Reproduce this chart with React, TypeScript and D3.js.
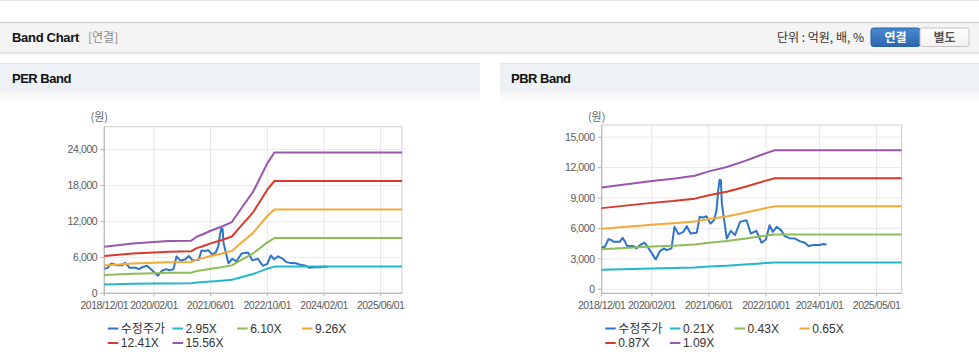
import React from 'react';
import * as d3 from 'd3';

const PER_MULTIPLES = [2.95, 6.1, 9.26, 12.41, 15.56];
const PBR_MULTIPLES = [0.21, 0.43, 0.65, 0.87, 1.09];
const PER_LEGEND = ['수정주가', '2.95X', '6.10X', '9.26X', '12.41X', '15.56X'];
const PBR_LEGEND = ['수정주가', '0.21X', '0.43X', '0.65X', '0.87X', '1.09X'];
const SERIES_COLORS = ['#3074c6', '#22b8c8', '#8dbd55', '#f5a935', '#d8392c', '#9a55ad'];

// EPS (per share) used for PER bands
const EPS_SERIES: [string, number][] = [
  ['2018-12-01', 500], ['2019-08-01', 535], ['2020-02-01', 550], ['2020-06-01', 560],
  ['2020-12-15', 564], ['2021-02-01', 607], ['2021-04-01', 636], ['2021-06-01', 671],
  ['2021-09-01', 714], ['2021-12-01', 764], ['2022-02-10', 893], ['2022-06-01', 1089],
  ['2022-10-01', 1393], ['2022-12-01', 1510], ['2025-12-01', 1510],
];

// BPS (per share) used for PBR bands
const BPS_SERIES: [string, number][] = [
  ['2018-12-01', 9200], ['2020-02-01', 9795], ['2020-08-01', 10006], ['2021-02-01', 10275],
  ['2021-06-01', 10667], ['2021-11-01', 11057], ['2022-04-01', 11598], ['2022-10-01', 12319],
  ['2022-12-15', 12580], ['2025-12-01', 12580],
];

// Adjusted share price (수정주가)
const PRICE_SERIES: [string, number][] = [
  ['2018-12-01', 4130], ['2018-12-28', 4200], ['2019-01-28', 4950], ['2019-02-25', 4850],
  ['2019-03-10', 4680], ['2019-05-03', 4680], ['2019-05-28', 5080], ['2019-06-18', 4680],
  ['2019-07-06', 4260], ['2019-08-28', 4260], ['2019-09-25', 4030], ['2019-10-22', 4360],
  ['2019-12-03', 4590], ['2020-01-15', 3860], ['2020-02-28', 3050], ['2020-03-06', 2950],
  ['2020-04-10', 3770], ['2020-05-15', 4030], ['2020-06-06', 3860], ['2020-07-18', 4030],
  ['2020-08-12', 6160], ['2020-09-15', 5440], ['2020-10-28', 5670], ['2020-11-25', 6220],
  ['2020-12-28', 5500], ['2021-02-18', 5570], ['2021-03-15', 7140], ['2021-04-12', 7070],
  ['2021-05-12', 7200], ['2021-06-15', 6480], ['2021-07-15', 6810], ['2021-08-06', 7800],
  ['2021-08-20', 9760], ['2021-09-01', 10810], ['2021-09-12', 10740], ['2021-09-20', 8450],
  ['2021-10-10', 6810], ['2021-11-01', 5010], ['2021-12-05', 5760], ['2022-01-10', 5340],
  ['2022-02-22', 6650], ['2022-04-18', 6810], ['2022-05-25', 5500], ['2022-07-12', 5760],
  ['2022-08-25', 4590], ['2022-10-01', 4910], ['2022-11-01', 6320], ['2022-11-28', 5670],
  ['2023-01-01', 6160], ['2023-02-12', 5760], ['2023-03-10', 5240], ['2023-04-20', 5040],
  ['2023-06-03', 5010], ['2023-07-15', 4750], ['2023-08-28', 4590], ['2023-09-28', 4260],
  ['2023-11-10', 4360], ['2024-01-03', 4360], ['2024-02-01', 4460], ['2024-03-01', 4420],
];

const X_DOMAIN = ['2018-12-01', '2025-12-01'];
const PER_X_TICKS = ['2018/12/01', '2020/02/01', '2021/06/01', '2022/10/01', '2024/02/01', '2025/06/01'];
const PBR_X_TICKS = ['2018/12/01', '2020/02/01', '2021/06/01', '2022/10/01', '2024/01/01', '2025/05/01'];
const PER_Y_TICKS = [0, 6000, 12000, 18000, 24000];
const PBR_Y_TICKS = [0, 3000, 6000, 9000, 12000, 15000];
const PER_Y_DOMAIN = [0, 27800];
const PBR_Y_DOMAIN = [-395, 16200];

const FONT = "'Liberation Sans', Arial, 'Noto Sans CJK KR', sans-serif";
const KFONT = "'Noto Sans CJK KR', 'Liberation Sans', sans-serif";

const parse = d3.timeParse('%Y-%m-%d');
const parseTick = d3.timeParse('%Y/%m/%d');

type PanelProps = {
  left: number; right: number; top: number; bottom: number;
  yDomain: number[]; yTicks: number[]; xTicks: string[];
  base: [string, number][]; multiples: number[]; legend: string[];
};

function Panel({ left, right, top, bottom, yDomain, yTicks, xTicks, base, multiples, legend }: PanelProps) {
  const x = d3.scaleTime().domain(X_DOMAIN.map((d) => parse(d) as Date)).range([left, right]);
  const y = d3.scaleLinear().domain(yDomain).range([bottom, top]);
  const line = d3.line<[Date, number]>().x((d) => x(d[0])).y((d) => y(d[1]));
  const price: [Date, number][] = PRICE_SERIES.map(([d, v]) => [parse(d) as Date, v]);
  const bands = multiples.map((m) => base.map(([d, v]) => [parse(d) as Date, v * m] as [Date, number]));
  const fmt = d3.format(',');
  const colW = 64.7;
  return (
    <g>
      {/* gridlines */}
      {yTicks.map((t) => (
        <line key={'gy' + t} x1={left} x2={right} y1={y(t)} y2={y(t)} stroke="#ebebeb" strokeWidth={1} />
      ))}
      {xTicks.map((t) => {
        const xx = x(parseTick(t) as Date);
        return <line key={'gx' + t} x1={xx} x2={xx} y1={top} y2={bottom} stroke="#e6e6e6" strokeWidth={1} />;
      })}
      {/* border */}
      <rect x={left} y={top} width={right - left} height={bottom - top} fill="none" stroke="#cfcfcf" strokeWidth={1} />
      <line x1={left} x2={left} y1={top} y2={bottom} stroke="#b5b5b5" />
      <line x1={left} x2={right} y1={bottom} y2={bottom} stroke="#b5b5b5" />
      {/* y ticks */}
      {yTicks.map((t) => (
        <g key={'yt' + t}>
          <line x1={left - 4} x2={left} y1={y(t)} y2={y(t)} stroke="#b5b5b5" />
          <text x={left - 7} y={y(t)} dy="0.35em" textAnchor="end" fontSize={10.5} fill="#5a5a5a" fontFamily={FONT} letterSpacing={-0.4}>
            {fmt(t)}
          </text>
        </g>
      ))}
      {/* x ticks */}
      {xTicks.map((t) => {
        const xx = x(parseTick(t) as Date);
        return (
          <g key={'xt' + t}>
            <line x1={xx} x2={xx} y1={bottom} y2={bottom + 3} stroke="#b5b5b5" />
            <text x={xx} y={bottom + 16} textAnchor="middle" fontSize={10.5} fill="#5a5a5a" fontFamily={FONT} letterSpacing={-0.5}>
              {t}
            </text>
          </g>
        );
      })}
      <text x={left - 5} y={117} dy="0.35em" textAnchor="middle" fontSize={11} fill="#666" fontFamily={KFONT}>
        (원)
      </text>
      {/* series */}
      <path d={line(price) || ''} fill="none" stroke={SERIES_COLORS[0]} strokeWidth={2} strokeLinejoin="round" />
      {bands.map((b, i) => (
        <path key={'b' + i} d={line(b) || ''} fill="none" stroke={SERIES_COLORS[i + 1]} strokeWidth={2} strokeLinejoin="round" />
      ))}
      {/* legend */}
      {legend.map((name, i) => {
        const lx = left + 3.5 + (i % 4) * colW;
        const ly = 328.5 + Math.floor(i / 4) * 14.5;
        return (
          <g key={'lg' + i}>
            <line x1={lx} x2={lx + 10.5} y1={ly} y2={ly} stroke={SERIES_COLORS[i]} strokeWidth={2} />
            <text x={lx + 13} y={ly} dy="0.36em" fontSize={12} fill="#333" fontFamily={i === 0 ? KFONT : FONT}>
              {name}
            </text>
          </g>
        );
      })}
    </g>
  );
}

export default function App() {
  return (
    <svg width={979} height={361} style={{ position: 'absolute', left: 0, top: 0, background: '#fff' }}>
      <defs>
        <linearGradient id="shadow" x1="0" x2="0" y1="0" y2="1">
          <stop offset="0" stopColor="#d8d8d8" />
          <stop offset="1" stopColor="#ffffff" stopOpacity={0} />
        </linearGradient>
        <linearGradient id="btnBlue" x1="0" x2="0" y1="0" y2="1">
          <stop offset="0" stopColor="#4a89d0" />
          <stop offset="1" stopColor="#2b67ae" />
        </linearGradient>
        <linearGradient id="btnWhite" x1="0" x2="0" y1="0" y2="1">
          <stop offset="0" stopColor="#ffffff" />
          <stop offset="1" stopColor="#f1f1f1" />
        </linearGradient>
        <linearGradient id="fade" x1="0" x2="0" y1="0" y2="1">
          <stop offset="0" stopColor="#f6f6f6" />
          <stop offset="1" stopColor="#ffffff" />
        </linearGradient>
      </defs>
      <rect x={0} y={0} width={979} height={361} fill="#fff" />
      <line x1={0} x2={979} y1={0.5} y2={0.5} stroke="#e8e8e8" />
      {/* top header bar */}
      <rect x={0} y={52} width={979} height={5} fill="url(#shadow)" />
      <rect x={0} y={22} width={979} height={30} fill="#f4f4f4" />
      <line x1={0} x2={979} y1={22.5} y2={22.5} stroke="#c9c9c9" />
      <text x={12} y={42} fontSize={13} fontWeight="bold" fill="#111" fontFamily={FONT} letterSpacing={-0.3}>
        Band Chart
      </text>
      <text x={88} y={42} fontSize={12} fill="#8a8a8a" fontFamily={KFONT}>
        [연결]
      </text>
      <text x={864} y={41.5} textAnchor="end" fontSize={12} fill="#333" fontFamily={KFONT}>
        단위 : 억원, 배, %
      </text>
      <rect x={871} y={28} width={49} height={18.5} rx={2.5} fill="url(#btnBlue)" stroke="#2a61a3" />
      <rect x={920} y={28} width={49} height={18.5} rx={2.5} fill="url(#btnWhite)" stroke="#c4c4c4" />
      <text x={895.5} y={37.5} dy="0.36em" textAnchor="middle" fontSize={12} fontWeight="bold" fill="#fff" fontFamily={KFONT}>
        연결
      </text>
      <text x={944.5} y={37.5} dy="0.36em" textAnchor="middle" fontSize={12} fontWeight="bold" fill="#555" fontFamily={KFONT}>
        별도
      </text>
      {/* section headers */}
      <rect x={0} y={63} width={480} height={28} fill="#eef1f6" />
      <line x1={0} x2={480} y1={63.5} y2={63.5} stroke="#dde1e8" />
      <rect x={0} y={91} width={480} height={14} fill="url(#fade)" />
      <text x={12} y={83} fontSize={13} fontWeight="bold" fill="#111" fontFamily={FONT} letterSpacing={-0.5}>
        PER Band
      </text>
      <rect x={500} y={63} width={479} height={28} fill="#eef1f6" />
      <line x1={500} x2={979} y1={63.5} y2={63.5} stroke="#dde1e8" />
      <rect x={500} y={91} width={479} height={14} fill="url(#fade)" />
      <text x={511} y={83} fontSize={13} fontWeight="bold" fill="#111" fontFamily={FONT} letterSpacing={-0.5}>
        PBR Band
      </text>
      <Panel left={104.3} right={402} top={126.7} bottom={293.3} yDomain={PER_Y_DOMAIN} yTicks={PER_Y_TICKS}
        xTicks={PER_X_TICKS} base={EPS_SERIES} multiples={PER_MULTIPLES} legend={PER_LEGEND} />
      <Panel left={601.7} right={901.7} top={125} bottom={293.3} yDomain={PBR_Y_DOMAIN} yTicks={PBR_Y_TICKS}
        xTicks={PBR_X_TICKS} base={BPS_SERIES} multiples={PBR_MULTIPLES} legend={PBR_LEGEND} />
    </svg>
  );
}
